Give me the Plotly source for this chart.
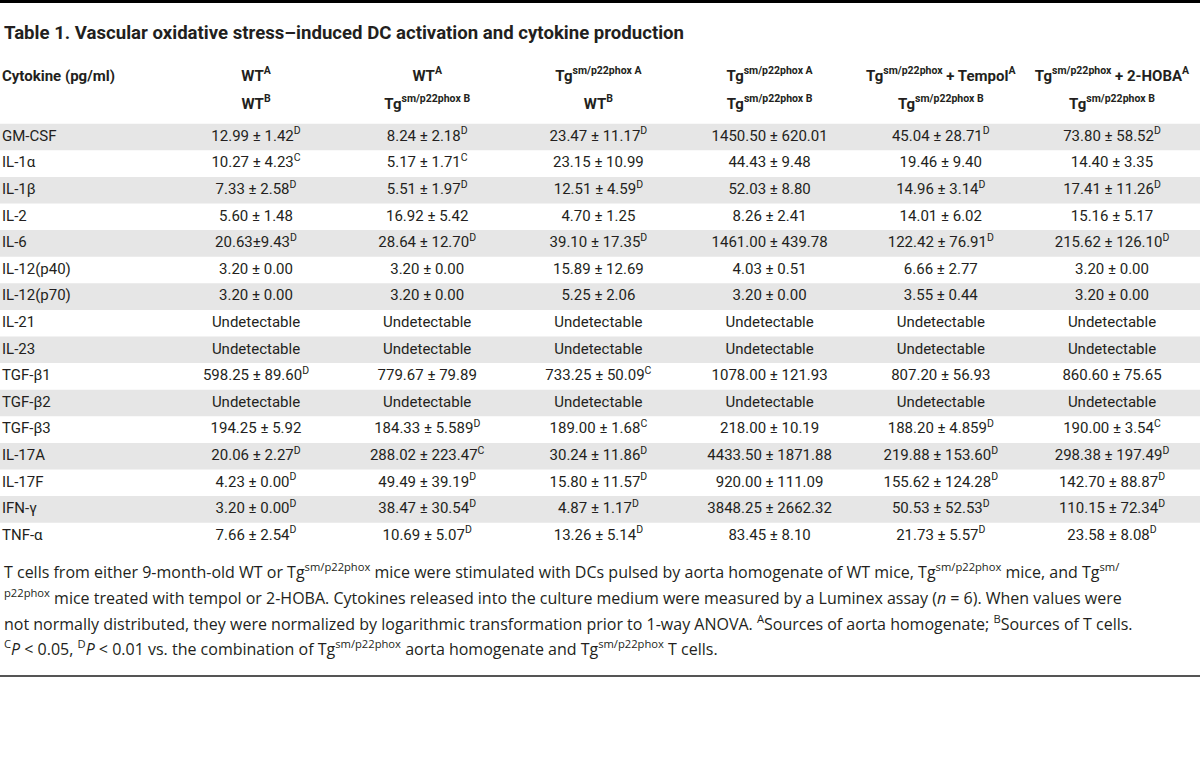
import plotly.graph_objects as go

# ---------------- data ----------------
title = "Table 1. Vascular oxidative stress–induced DC activation and cytokine production"
row_header = "Cytokine (pg/ml)"
header_a = ["WT<sup>A</sup>", "WT<sup>A</sup>", "Tg<sup>sm/p22phox A</sup>", "Tg<sup>sm/p22phox A</sup>",
            "Tg<sup>sm/p22phox</sup> + Tempol<sup>A</sup>", "Tg<sup>sm/p22phox</sup> + 2-HOBA<sup>A</sup>"]
header_b = ["WT<sup>B</sup>", "Tg<sup>sm/p22phox B</sup>", "WT<sup>B</sup>", "Tg<sup>sm/p22phox B</sup>",
            "Tg<sup>sm/p22phox B</sup>", "Tg<sup>sm/p22phox B</sup>"]

cytokines = ["GM-CSF", "IL-1α", "IL-1β", "IL-2", "IL-6", "IL-12(p40)", "IL-12(p70)", "IL-21", "IL-23",
             "TGF-β1", "TGF-β2", "TGF-β3", "IL-17A", "IL-17F", "IFN-γ", "TNF-α"]

wt_wt = ["12.99 ± 1.42", "10.27 ± 4.23", "7.33 ± 2.58", "5.60 ± 1.48", "20.63±9.43", "3.20 ± 0.00",
         "3.20 ± 0.00", "Undetectable", "Undetectable", "598.25 ± 89.60", "Undetectable", "194.25 ± 5.92",
         "20.06 ± 2.27", "4.23 ± 0.00", "3.20 ± 0.00", "7.66 ± 2.54"]
wt_wt_sig = ["D", "C", "D", "", "D", "", "", "", "", "D", "", "", "D", "D", "D", "D"]

wt_tg = ["8.24 ± 2.18", "5.17 ± 1.71", "5.51 ± 1.97", "16.92 ± 5.42", "28.64 ± 12.70", "3.20 ± 0.00",
         "3.20 ± 0.00", "Undetectable", "Undetectable", "779.67 ± 79.89", "Undetectable", "184.33 ± 5.589",
         "288.02 ± 223.47", "49.49 ± 39.19", "38.47 ± 30.54", "10.69 ± 5.07"]
wt_tg_sig = ["D", "C", "D", "", "D", "", "", "", "", "", "", "D", "C", "D", "D", "D"]

tg_wt = ["23.47 ± 11.17", "23.15 ± 10.99", "12.51 ± 4.59", "4.70 ± 1.25", "39.10 ± 17.35", "15.89 ± 12.69",
         "5.25 ± 2.06", "Undetectable", "Undetectable", "733.25 ± 50.09", "Undetectable", "189.00 ± 1.68",
         "30.24 ± 11.86", "15.80 ± 11.57", "4.87 ± 1.17", "13.26 ± 5.14"]
tg_wt_sig = ["D", "", "D", "", "D", "", "", "", "", "C", "", "C", "D", "D", "D", "D"]

tg_tg = ["1450.50 ± 620.01", "44.43 ± 9.48", "52.03 ± 8.80", "8.26 ± 2.41", "1461.00 ± 439.78", "4.03 ± 0.51",
         "3.20 ± 0.00", "Undetectable", "Undetectable", "1078.00 ± 121.93", "Undetectable", "218.00 ± 10.19",
         "4433.50 ± 1871.88", "920.00 ± 111.09", "3848.25 ± 2662.32", "83.45 ± 8.10"]
tg_tg_sig = [""] * 16

tempol = ["45.04 ± 28.71", "19.46 ± 9.40", "14.96 ± 3.14", "14.01 ± 6.02", "122.42 ± 76.91", "6.66 ± 2.77",
          "3.55 ± 0.44", "Undetectable", "Undetectable", "807.20 ± 56.93", "Undetectable", "188.20 ± 4.859",
          "219.88 ± 153.60", "155.62 ± 124.28", "50.53 ± 52.53", "21.73 ± 5.57"]
tempol_sig = ["D", "", "D", "", "D", "", "", "", "", "", "", "D", "D", "D", "D", "D"]

hoba = ["73.80 ± 58.52", "14.40 ± 3.35", "17.41 ± 11.26", "15.16 ± 5.17", "215.62 ± 126.10", "3.20 ± 0.00",
        "3.20 ± 0.00", "Undetectable", "Undetectable", "860.60 ± 75.65", "Undetectable", "190.00 ± 3.54",
        "298.38 ± 197.49", "142.70 ± 88.87", "110.15 ± 72.34", "23.58 ± 8.08"]
hoba_sig = ["D", "", "D", "", "D", "", "", "", "", "", "", "C", "D", "D", "D", "D"]

footnote_lines = [
    "T cells from either 9-month-old WT or Tg<sup>sm/p22phox</sup> mice were stimulated with DCs pulsed by aorta "
    "homogenate of WT mice, Tg<sup>sm/p22phox</sup> mice, and Tg<sup>sm/</sup>",
    "<sup>p22phox</sup> mice treated with tempol or 2-HOBA. Cytokines released into the culture medium were "
    "measured by a Luminex assay (<i>n</i> = 6). When values were",
    "not normally distributed, they were normalized by logarithmic transformation prior to 1-way ANOVA. "
    "<sup>A</sup>Sources of aorta homogenate; <sup>B</sup>Sources of T cells.",
    "<sup>C</sup><i>P</i> &lt; 0.05, <sup>D</sup><i>P</i> &lt; 0.01 vs. the combination of Tg<sup>sm/p22phox</sup> "
    "aorta homogenate and Tg<sup>sm/p22phox</sup> T cells.",
]

columns = [(wt_wt, wt_wt_sig), (wt_tg, wt_tg_sig), (tg_wt, tg_wt_sig),
           (tg_tg, tg_tg_sig), (tempol, tempol_sig), (hoba, hoba_sig)]

# ---------------- layout / style ----------------
W, H = 1200, 766
COL_X0, COL_STEP = 256.0, 171.2      # px: centre of first value column, spacing
ROW_Y0, ROW_STEP = 137.0, 26.6       # px: centre of first data row, spacing
LABEL_X = 2.0
HEAD1_Y, HEAD2_Y = 77.0, 105.0
TITLE_Y = 33.0
FOOT_Y0, FOOT_STEP = 571.0, 25.8
BOTTOM_RULE_Y = 676.0

BODY_FONT = "Roboto, Liberation Sans, sans-serif"
FOOT_FONT = "Open Sans, Noto Sans, sans-serif"
INK = "#231f20"
BAND = "#e6e6e6"
BODY_SIZE = 15


def px_to_col(px):
    return (px - COL_X0) / COL_STEP + 1


def px_to_row(py):
    return (py - ROW_Y0) / ROW_STEP


fig = go.Figure()

n = len(cytokines)
rows = list(range(n))

# grey bands on alternating rows
for i in rows:
    if i % 2 == 0:
        fig.add_shape(type="rect", xref="paper", x0=0, x1=1, yref="y", y0=i - 0.5, y1=i + 0.5,
                      fillcolor=BAND, line=dict(width=0), layer="below")

body_font = dict(family=BODY_FONT, size=BODY_SIZE, color=INK)

# row labels
fig.add_trace(go.Scatter(x=[px_to_col(LABEL_X)] * n, y=rows, text=cytokines, mode="text",
                         textposition="middle right", textfont=body_font, hoverinfo="skip"))

# value columns
for ci, (vals, sigs) in enumerate(columns):
    texts = [v + (f"<sup>{s}</sup>" if s else "") for v, s in zip(vals, sigs)]
    fig.add_trace(go.Scatter(x=[ci + 1] * n, y=rows, text=texts, mode="text",
                             textposition="middle center", textfont=body_font, hoverinfo="skip"))

# header rows
fig.add_trace(go.Scatter(x=[px_to_col(LABEL_X)], y=[px_to_row(HEAD1_Y)], text=[f"<b>{row_header}</b>"],
                         mode="text", textposition="middle right", textfont=body_font, hoverinfo="skip"))
fig.add_trace(go.Scatter(x=list(range(1, 7)), y=[px_to_row(HEAD1_Y)] * 6, text=[f"<b>{h}</b>" for h in header_a],
                         mode="text", textposition="middle center", textfont=body_font, hoverinfo="skip"))
fig.add_trace(go.Scatter(x=list(range(1, 7)), y=[px_to_row(HEAD2_Y)] * 6, text=[f"<b>{h}</b>" for h in header_b],
                         mode="text", textposition="middle center", textfont=body_font, hoverinfo="skip"))

# title
fig.add_annotation(x=LABEL_X / W, y=1 - TITLE_Y / H, xref="paper", yref="paper", xanchor="left", yanchor="middle",
                   text=f"<b>{title}</b>", showarrow=False, font=dict(family=BODY_FONT, size=18.6, color=INK))

# footnote
for k, line in enumerate(footnote_lines):
    fig.add_annotation(x=LABEL_X / W, y=1 - (FOOT_Y0 + k * FOOT_STEP) / H, xref="paper", yref="paper",
                       xanchor="left", yanchor="middle", text=line, showarrow=False,
                       font=dict(family=FOOT_FONT, size=16, color=INK))

# rules
fig.add_shape(type="rect", xref="paper", yref="paper", x0=0, x1=1, y0=1 - 3 / H, y1=1,
              fillcolor="#000000", line=dict(width=0))
fig.add_shape(type="line", xref="paper", yref="paper", x0=0, x1=1, y0=1 - BOTTOM_RULE_Y / H,
              y1=1 - BOTTOM_RULE_Y / H, line=dict(color="#555555", width=2))

fig.update_layout(
    width=W, height=H, margin=dict(l=0, r=0, t=0, b=0),
    paper_bgcolor="white", plot_bgcolor="white", showlegend=False,
    xaxis=dict(visible=False, range=[px_to_col(0), px_to_col(W)], fixedrange=True),
    yaxis=dict(visible=False, range=[px_to_row(H), px_to_row(0)], fixedrange=True),
)

fig.write_html("out.html", config={"displayModeBar": False, "staticPlot": True},
               post_script="document.body.style.margin='0';document.body.style.overflow='hidden';")
